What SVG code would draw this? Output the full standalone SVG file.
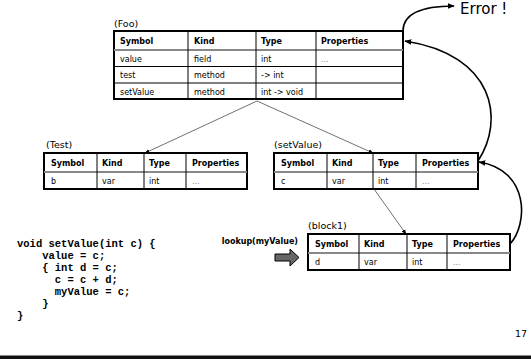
<svg xmlns="http://www.w3.org/2000/svg" width="531" height="360" viewBox="0 0 531 360">
<style>
.bg{fill:#fff}
.tbl{fill:#fff;stroke:#000;stroke-width:2}
.hsep{stroke:#888;stroke-width:2}
.rsep{stroke:#000;stroke-width:1}
.csep{stroke:#000;stroke-width:1}
.hd{font-family:"DejaVu Sans",Verdana,sans-serif;font-weight:bold;font-size:8px;fill:#000}
.cell{font-family:"DejaVu Sans",Verdana,sans-serif;font-size:8px;fill:#000}
.dots{font-family:"DejaVu Sans",Verdana,sans-serif;font-size:8px;fill:#888}
.lbl{font-family:"DejaVu Sans",Verdana,sans-serif;font-size:9.5px;fill:#000}
.code{font-family:"Liberation Mono","Courier New",monospace;font-weight:bold;font-size:10.5px;fill:#000;white-space:pre}
.thin{fill:none;stroke:#333;stroke-width:0.7}
.thick{fill:none;stroke:#000;stroke-width:1.6}
</style>
<defs>
<marker id="ah" viewBox="0 0 10 10" refX="9" refY="5" markerWidth="5" markerHeight="5" orient="auto" markerUnits="userSpaceOnUse"><path d="M0,1 L10,5 L0,9 z" fill="#000"/></marker>
<marker id="ahb" viewBox="0 0 10 10" refX="9" refY="5" markerWidth="7" markerHeight="7" orient="auto" markerUnits="userSpaceOnUse"><path d="M0,1 L10,5 L0,9 z" fill="#000"/></marker>
</defs>
<rect class="bg" x="0" y="0" width="531" height="360"/>

<g id="foo">
<text class="lbl" x="114" y="27">(Foo)</text>
<rect class="tbl" x="114" y="31" width="289" height="68"/>
<line class="hsep" x1="114" y1="50" x2="403" y2="50"/>
<line class="rsep" x1="114" y1="66.5" x2="403" y2="66.5"/>
<line class="rsep" x1="114" y1="83" x2="403" y2="83"/>
<line class="csep" x1="188" y1="31" x2="188" y2="99"/>
<line class="csep" x1="256" y1="31" x2="256" y2="99"/>
<line class="csep" x1="316" y1="31" x2="316" y2="99"/>
<text class="hd" x="120" y="44">Symbol</text>
<text class="hd" x="194" y="44">Kind</text>
<text class="hd" x="261" y="44">Type</text>
<text class="hd" x="321" y="44">Properties</text>
<text class="cell" x="120" y="61.5">value</text>
<text class="cell" x="194" y="61.5">field</text>
<text class="cell" x="261" y="61.5">int</text>
<text class="dots" x="321" y="61.5">...</text>
<text class="cell" x="120" y="78">test</text>
<text class="cell" x="194" y="78">method</text>
<text class="cell" x="261" y="78">-&gt; int</text>
<text class="cell" x="120" y="94.5">setValue</text>
<text class="cell" x="194" y="94.5">method</text>
<text class="cell" x="261" y="94.5">int -&gt; void</text>
</g>

<g id="test">
<text class="lbl" x="46" y="148">(Test)</text>
<rect class="tbl" x="44" y="153" width="203" height="36"/>
<line class="hsep" x1="44" y1="172" x2="247" y2="172"/>
<line class="csep" x1="97" y1="153" x2="97" y2="189"/>
<line class="csep" x1="144" y1="153" x2="144" y2="189"/>
<line class="csep" x1="186" y1="153" x2="186" y2="189"/>
<text class="hd" x="51" y="166">Symbol</text>
<text class="hd" x="102" y="166">Kind</text>
<text class="hd" x="149" y="166">Type</text>
<text class="hd" x="192" y="166">Properties</text>
<text class="cell" x="51" y="184">b</text>
<text class="cell" x="102" y="184">var</text>
<text class="cell" x="149" y="184">int</text>
<text class="dots" x="192" y="184">...</text>
</g>

<g id="setvalue">
<text class="lbl" x="274" y="148">(setValue)</text>
<rect class="tbl" x="274" y="153" width="204" height="36"/>
<line class="hsep" x1="274" y1="172" x2="478" y2="172"/>
<line class="csep" x1="327" y1="153" x2="327" y2="189"/>
<line class="csep" x1="373" y1="153" x2="373" y2="189"/>
<line class="csep" x1="416" y1="153" x2="416" y2="189"/>
<text class="hd" x="281" y="166">Symbol</text>
<text class="hd" x="332" y="166">Kind</text>
<text class="hd" x="378" y="166">Type</text>
<text class="hd" x="422" y="166">Properties</text>
<text class="cell" x="281" y="184">c</text>
<text class="cell" x="332" y="184">var</text>
<text class="cell" x="378" y="184">int</text>
<text class="dots" x="422" y="184">...</text>
</g>

<g id="block1">
<text class="lbl" x="308" y="229">(block1)</text>
<rect class="tbl" x="308" y="234" width="202" height="36"/>
<line class="hsep" x1="308" y1="253" x2="510" y2="253"/>
<line class="csep" x1="359" y1="234" x2="359" y2="270"/>
<line class="csep" x1="407" y1="234" x2="407" y2="270"/>
<line class="csep" x1="447" y1="234" x2="447" y2="270"/>
<text class="hd" x="315" y="247">Symbol</text>
<text class="hd" x="364" y="247">Kind</text>
<text class="hd" x="412" y="247">Type</text>
<text class="hd" x="453" y="247">Properties</text>
<text class="cell" x="315" y="265">d</text>
<text class="cell" x="364" y="265">var</text>
<text class="cell" x="412" y="265">int</text>
<text class="dots" x="453" y="265">...</text>
</g>

<g id="code">
<text class="code" x="17" y="247">void setValue(int c) {</text>
<text class="code" x="17" y="259">    value = c;</text>
<text class="code" x="17" y="271">    { int d = c;</text>
<text class="code" x="17" y="283">      c = c + d;</text>
<text class="code" x="17" y="295">      myValue = c;</text>
<text class="code" x="17" y="307">    }</text>
<text class="code" x="17" y="319">}</text>
</g>

<g id="lookup">
<text class="hd" x="298" y="244" text-anchor="end">lookup(myValue)</text>
<polygon points="275,254 290,254 290,249 299,257.5 290,266 290,261 275,261" fill="#666" stroke="#000" stroke-width="1"/>
</g>

<g id="error">
<text font-family="DejaVu Sans,Verdana,sans-serif" font-size="15" x="460" y="14">Error !</text>
</g>

<g id="connectors">
<line class="thin" x1="257" y1="101" x2="145" y2="153" marker-end="url(#ah)"/>
<line class="thin" x1="257" y1="101" x2="373" y2="153" marker-end="url(#ah)"/>
<line class="thin" x1="374" y1="189" x2="406" y2="234" marker-end="url(#ah)"/>
<path class="thick" d="M403,31 C403,12 425,6 454,6" marker-end="url(#ahb)"/>
<path class="thick" d="M478,161 C505,120 495,55 405,41" marker-end="url(#ahb)"/>
<path class="thick" d="M510,244 C528,225 530,170 479,162" marker-end="url(#ahb)"/>
</g>

<text class="lbl" x="527" y="337" text-anchor="end">17</text>
<rect x="0" y="355.5" width="531" height="3.5" fill="#111"/>
</svg>
